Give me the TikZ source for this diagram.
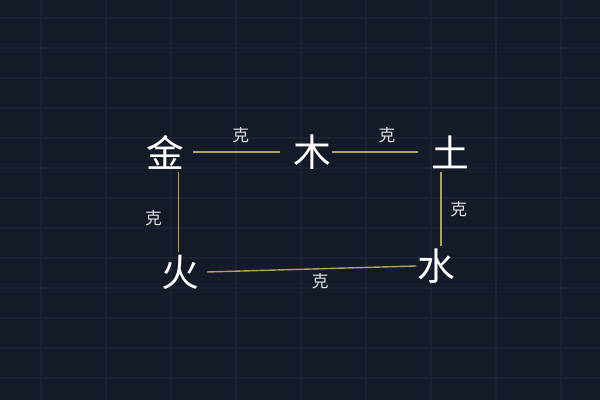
\documentclass[tikz,border=0pt]{standalone}
\usepackage{fontspec}
\setmainfont{Noto Sans CJK SC}
\usetikzlibrary{calc,positioning}
\definecolor{bg}{HTML}{151A28}
\definecolor{gridc}{HTML}{1D2232}
\definecolor{gold}{HTML}{AE9F64}
\tikzstyle{elem}=[text=white, font=\fontsize{21.5}{22}\selectfont, inner sep=0pt, minimum size=22pt]
\tikzstyle{ke}=[text=white!88!black, font=\fontsize{9.5}{10}\selectfont, inner sep=3pt]
\tikzstyle{l1}=[draw=gold, line width=0.8]

\begin{document}
\begin{tikzpicture}[scale=1]
    \fill[bg] (0,0) rectangle (12,8);
    \useasboundingbox (0,0) rectangle (12,8);
    \foreach \x in {0.82,2.12,...,11.3} \draw[gridc, line width=0.6] (\x,0) -- (\x,8);
    \foreach \y in {0.44,1.04,...,7.7} \draw[gridc, line width=0.6] (0,\y) -- (12,\y);

    \node[elem] at (3.3,4.96) (jin) {金};
    \node[elem] at (6.24,4.96) (mu) {木};
    \node[elem] at (9.0,4.96) (tu) {土};
    \node[elem] at (3.6,2.56) (huo) {火};
    \node[elem] at (8.72,2.68) (shui) {水};

    % horizontal links
    \draw[l1] ([xshift=4.5pt]jin.east) -- node[ke, above=2pt, pos=0.55] {克} ([xshift=-7pt]mu.west);
    \draw[l1] (mu.east) -- node[ke, above=2pt, pos=0.64] {克} ([xshift=-7pt]tu.west);
    \draw[l1] ([xshift=4.3pt]huo.east) -- node[ke, below=-1pt, pos=0.54] {克} (shui.west);
    % vertical links
    \draw[l1] ([xshift=-1pt]huo.north |- jin.south) -- node[ke, left=6pt, pos=0.58] {克} ([xshift=-1pt]huo.north);
    \draw[l1] ([xshift=2.8pt]shui.north |- tu.south) -- node[ke, right=2pt] {克} ([xshift=2.8pt]shui.north);
\end{tikzpicture}
\end{document}
